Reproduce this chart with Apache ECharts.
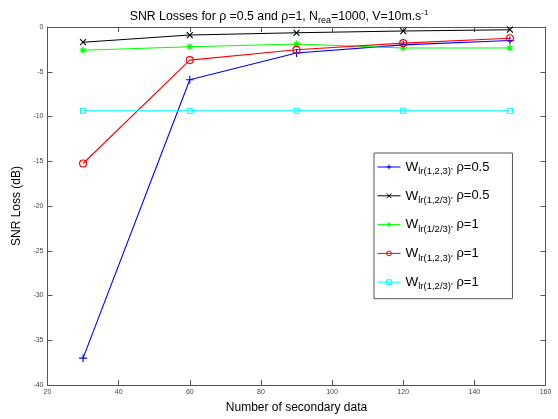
<!DOCTYPE html>
<html><head><meta charset="utf-8">
<script src="https://cdn.jsdelivr.net/npm/echarts@6/dist/echarts.min.js"></script>
<style>html,body{margin:0;padding:0;background:#fff}#c{width:558px;height:419px}</style>
</head><body><div id="c"></div>
<script>
const xValues = [30, 60, 90, 120, 150];
const blueP05 = [-37.0, -5.9, -2.9, -2.0, -1.5];
const blackP05 = [-1.7, -0.9, -0.65, -0.45, -0.3];
const greenP1 = [-2.6, -2.2, -1.9, -2.35, -2.35];
const redP1 = [-15.25, -3.7, -2.55, -1.8, -1.25];
const cyanP1 = [-9.35, -9.35, -9.35, -9.35, -9.35];
const xTicks = [20, 40, 60, 80, 100, 120, 140, 160];
const yTicks = [-40, -35, -30, -25, -20, -15, -10, -5, 0];
const seriesNames = ["s1", "s2", "s3", "s4", "s5"];
const legendSubs = ["lr(1,2,3)'", "lr(1,2/3)'", "lr(1/2/3)'", "lr(1,2,3)'", "lr(1,2/3)'"];
const legendRho = ["\u03c1=0.5", "\u03c1=0.5", "\u03c1=1", "\u03c1=1", "\u03c1=1"];

const FONT = "Liberation Sans, Arial, sans-serif";
const plus = 'path://M0,5L10,5M5,0L5,10';
const cross = 'path://M0,0L10,10M10,0L0,10';
const star = 'path://M0,5L10,5M5,0L5,10M1.5,1.5L8.5,8.5M8.5,1.5L1.5,8.5';

function mk(name, data, color, symbol, size, stroke) {
  return {
    name: name, type: 'line', data: xValues.map((x, i) => [x, data[i]]),
    symbol: symbol, symbolSize: size, showAllSymbol: true,
    lineStyle: {color: color, width: 1.1},
    itemStyle: {color: stroke ? color : 'rgba(0,0,0,0)', borderColor: color, borderWidth: 1.1},
    emphasis: {disabled: true}, animation: false, z: 3
  };
}
const series = [
  mk(seriesNames[0], blueP05, '#0000ff', plus, 8, true),
  mk(seriesNames[1], blackP05, '#000000', cross, 6, true),
  mk(seriesNames[2], greenP1, '#00ff00', star, 7, true),
  mk(seriesNames[3], redP1, '#ff0000', 'circle', 7, false),
  mk(seriesNames[4], cyanP1, '#00ffff', 'rect', 5, false)
];

const axisColor = '#555';
const chart = echarts.init(document.getElementById('c'), null, {renderer: 'canvas'});
chart.setOption({
  animation: false,
  backgroundColor: '#fff',
  title: {
    text: 'SNR Losses for \u03c1 =0.5 and \u03c1=1, N{sub|rea}=1000, V=10m.s{sup|-1}',
    left: 'center', top: 3,
    textStyle: {fontFamily: FONT, fontSize: 12.3, fontWeight: 'normal', color: '#000',
      rich: {
        sub: {fontFamily: FONT, fontSize: 9, color: '#000', padding: [8, 0, 0, 0]},
        sup: {fontFamily: FONT, fontSize: 8, color: '#000', padding: [0, 0, 8, 0]}
      }}
  },
  grid: {left: 47.5, right: 12.5, top: 27, bottom: 34, containLabel: false},
  legend: {
    orient: 'vertical', left: 374, top: 153,
    padding: [7, 23, 7, 3], itemGap: 12.3, itemWidth: 23, itemHeight: 6,
    backgroundColor: '#fff', borderColor: '#555', borderWidth: 1,
    lineStyle: {width: 1},
    itemStyle: {borderWidth: 1},
    data: seriesNames,
    formatter: function (name) {
      const i = seriesNames.indexOf(name);
      return '{w|W}{s|' + legendSubs[i] + '}{r| ' + legendRho[i] + '}';
    },
    textStyle: {fontFamily: FONT, color: '#000',
      rich: {
        w: {fontFamily: FONT, fontSize: 13.5, color: '#000'},
        s: {fontFamily: FONT, fontSize: 9.5, color: '#000', padding: [9, 0, 0, 0]},
        r: {fontFamily: FONT, fontSize: 13, color: '#000'}
      }}
  },
  xAxis: [{
    type: 'value', min: 20, max: 160, interval: 20, position: 'bottom',
    name: 'Number of secondary data', nameLocation: 'middle', nameGap: 17,
    nameTextStyle: {fontFamily: FONT, fontSize: 12, color: '#000'},
    axisLine: {show: true, onZero: false, lineStyle: {color: axisColor, width: 1}},
    axisTick: {show: true, inside: true, length: 5, lineStyle: {color: axisColor}},
    axisLabel: {fontFamily: FONT, fontSize: 7, color: '#444', margin: 4, formatter: v => xTicks.includes(v) ? String(v) : ''},
    splitLine: {show: false}
  }, {
    type: 'value', min: 20, max: 160, interval: 20, position: 'top',
    axisLine: {show: true, onZero: false, lineStyle: {color: axisColor, width: 1}},
    axisTick: {show: true, inside: true, length: 5, lineStyle: {color: axisColor}},
    axisLabel: {show: false}, splitLine: {show: false}
  }],
  yAxis: [{
    type: 'value', min: -40, max: 0, interval: 5, position: 'left',
    name: 'SNR Loss (dB)', nameLocation: 'middle', nameGap: 14, nameRotate: 90,
    nameTextStyle: {fontFamily: FONT, fontSize: 12, color: '#000'},
    axisLine: {show: true, onZero: false, lineStyle: {color: axisColor, width: 1}},
    axisTick: {show: true, inside: true, length: 5, lineStyle: {color: axisColor}},
    axisLabel: {fontFamily: FONT, fontSize: 7, color: '#444', margin: 4, formatter: v => yTicks.includes(v) ? String(v) : ''},
    splitLine: {show: false}
  }, {
    type: 'value', min: -40, max: 0, interval: 5, position: 'right',
    axisLine: {show: true, onZero: false, lineStyle: {color: axisColor, width: 1}},
    axisTick: {show: true, inside: true, length: 5, lineStyle: {color: axisColor}},
    axisLabel: {show: false}, splitLine: {show: false}
  }],
  series: series
});
</script></body></html>
